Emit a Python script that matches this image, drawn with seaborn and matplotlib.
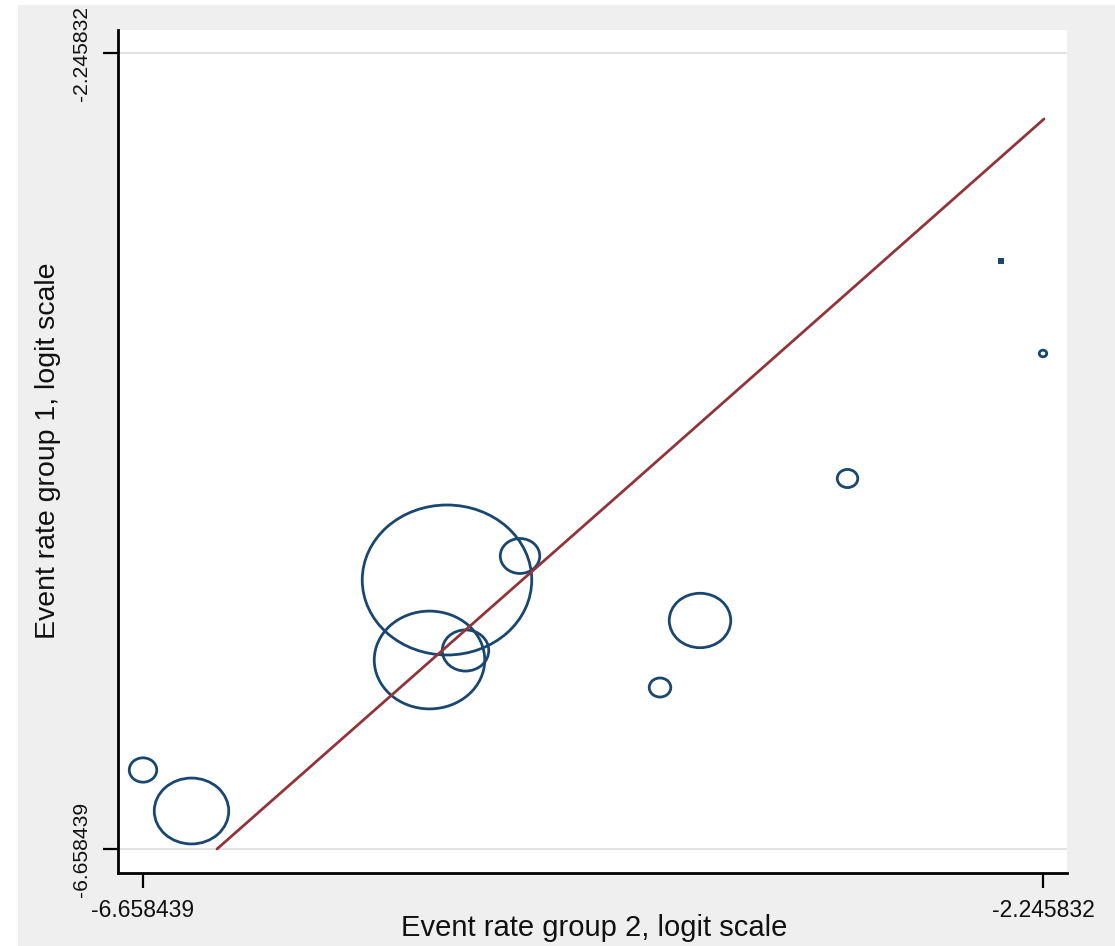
import numpy as np
import pandas as pd
import matplotlib
matplotlib.use("Agg")
import matplotlib.pyplot as plt
from matplotlib.path import Path
from matplotlib.transforms import Affine2D
from matplotlib.patches import Rectangle
import seaborn as sns

# ---- data ----
rate_group2 = [-6.6584, -6.4207, -5.1680, -4.8100, -5.2538, -5.0772, -3.9275, -4.1236, -3.2043, -2.2458]
rate_group1 = [-6.2205, -6.4478, -5.1672, -5.0342, -5.6107, -5.5580, -5.3917, -5.7632, -4.6046, -3.9116]
weight_area = [392, 2875, 14893, 809, 6330, 1121, 1961, 240, 218, 29]
tiny_x = [-2.4517]
tiny_y = [-3.3989]
fit_x = [-6.2956, -4.2707, -2.2409]
fit_y = [-6.658439, -4.6406, -2.6116]
axis_ticks = [-6.658439, -2.245832]
tick_labels = ["-6.658439", "-2.245832"]
xlabel = "Event rate group 2, logit scale"
ylabel = "Event rate group 1, logit scale"

NAVY = "#1A476F"
MAROON = "#90353B"

sns.set_style("white")
plt.rcParams["font.family"] = ["Liberation Sans", "DejaVu Sans"]

W, H = 1115, 946
fig = plt.figure(figsize=(W / 100, H / 100), dpi=100, facecolor="white")
fig.patches.append(Rectangle((18 / W, 0), 1 - 18 / W, 1 - 5 / H, transform=fig.transFigure,
                             facecolor="#EFEFEF", edgecolor="none", zorder=-10))
ax = fig.add_axes([118 / W, 1 - 873 / H, (1067 - 118) / W, (873 - 30) / H])
ax.set_facecolor("white")

# elliptical marker (reference is horizontally stretched)
ell = Path.unit_circle().transformed(Affine2D().scale(1.0, 0.885))

df = pd.DataFrame({"x": rate_group2, "y": rate_group1, "w": weight_area})
sns.scatterplot(data=df, x="x", y="y", s=df["w"].values, marker=ell, ax=ax,
                color=NAVY, facecolor="none", edgecolor=NAVY, linewidth=2.0, zorder=3)
sns.scatterplot(x=tiny_x, y=tiny_y, marker="s", s=18, ax=ax, color=NAVY,
                edgecolor=NAVY, linewidth=0, zorder=3)
sns.lineplot(x=fit_x, y=fit_y, ax=ax, color=MAROON, linewidth=2.0, sort=False,
             estimator=None, zorder=4)

span = axis_ticks[1] - axis_ticks[0]
ax.set_xlim(axis_ticks[0] - span * 0.02778, axis_ticks[1] + span * 0.02667)
ax.set_ylim(axis_ticks[0] - span * 0.03015, axis_ticks[1] + span * 0.02889)

ax.set_xticks(axis_ticks)
ax.set_xticklabels(tick_labels)
ax.set_yticks(axis_ticks)
ax.set_yticklabels(tick_labels, rotation=90)
for lab in ax.get_yticklabels():
    lab.set_va("center")
    lab.set_fontsize(15.2)
for lab in ax.get_xticklabels():
    lab.set_fontsize(16.5)

ax.tick_params(axis="both", which="major", direction="out", length=10.5, width=1.6,
               color="black", labelcolor="#111111", left=True, bottom=True)
ax.tick_params(axis="y", pad=9)
ax.tick_params(axis="x", pad=8)

ax.yaxis.grid(True, color="#E3E3E3", linewidth=1.4)
ax.xaxis.grid(False)
ax.set_axisbelow(True)

for side in ["top", "right"]:
    ax.spines[side].set_visible(False)
for side in ["left", "bottom"]:
    ax.spines[side].set_color("black")
    ax.spines[side].set_linewidth(2.0)

ax.set_xlabel(xlabel, fontsize=21, color="#111111", va="center")
ax.set_ylabel(ylabel, fontsize=20.5, color="#111111", va="center")
ax.xaxis.set_label_coords(0.5 + (594 - 592.5) / 949, (873 - 928) / 843)
ax.yaxis.set_label_coords((48 - 118) / 949, 0.5 + (873 - 451 - 421.5) / 843)
ax.legend_ = None

fig.savefig("out.png", dpi=100, facecolor=fig.get_facecolor())
